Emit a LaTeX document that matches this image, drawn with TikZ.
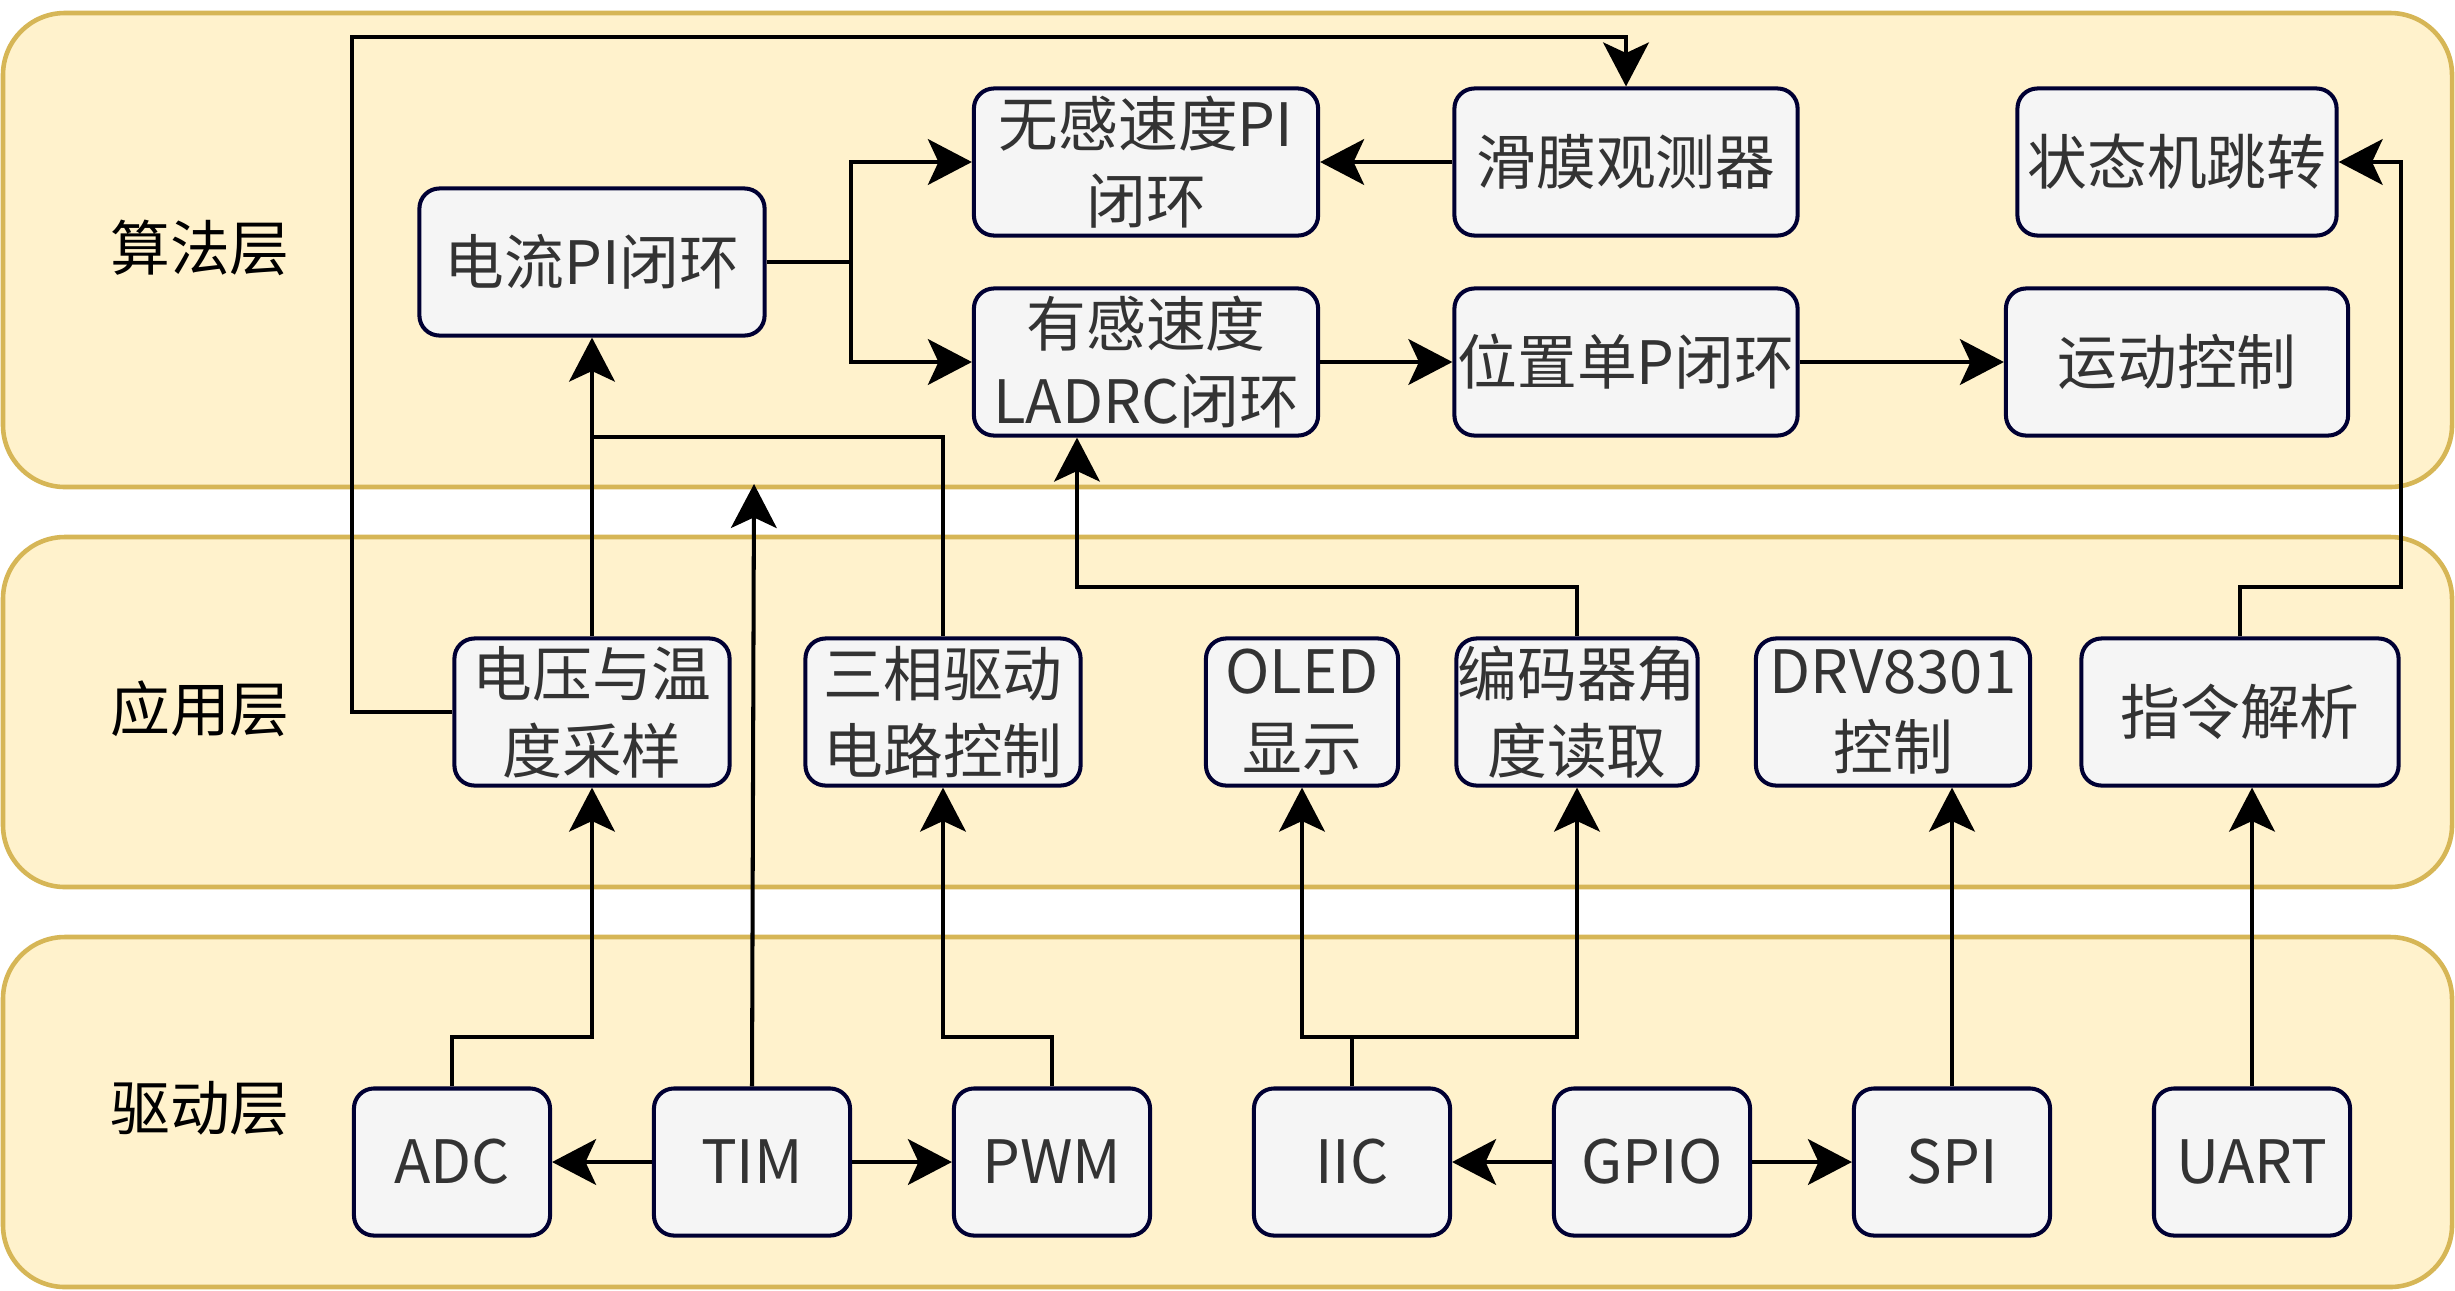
\documentclass[tikz,border=0pt]{standalone}
\usepackage{fontspec}
\setmainfont{Noto Sans CJK SC}
\usetikzlibrary{arrows.meta}
\definecolor{layerfill}{HTML}{FFF2CC}
\definecolor{layerline}{HTML}{D6B656}
\definecolor{boxfill}{HTML}{F5F5F5}
\definecolor{boxline}{HTML}{000033}
\definecolor{boxtext}{HTML}{333333}

\begin{document}
\begin{tikzpicture}[x=0.01cm, y=-0.01cm,
    font=\fontsize{17}{21.8}\selectfont,
    layer/.style={draw=layerline, fill=layerfill, line width=1.3pt, rounded corners=17.6pt},
    block/.style={draw=boxline, fill=boxfill, line width=1.15pt, rounded corners=5.7pt,
        text=boxtext, align=center, inner sep=0pt, minimum height=1.47cm},
    wire/.style={line width=1.15pt},
    link/.style={wire, -{Stealth[length=12.5pt, width=13pt, inset=3pt]}}]
    \useasboundingbox (0,0) rectangle (2455,1290);

    % Layers
    \draw[layer] (3,13) rectangle (2452,487);
    \draw[layer] (3,537) rectangle (2452,887);
    \draw[layer] (3,937) rectangle (2452,1287);
    \node (algLbl) at (200,248) {算法层};
    \node (appLbl) at (200,709) {应用层};
    \node (drvLbl) at (200,1109) {驱动层};

    % 算法层
    \node[block, minimum width=3.45cm] (curPI) at (592,262) {电流PI闭环};
    \node[block, minimum width=3.44cm] (slPI) at (1146,162) {无感速度PI\\闭环};
    \node[block, minimum width=3.44cm] (ladrc) at (1146,362) {有感速度\\LADRC闭环};
    \node[block, minimum width=3.43cm] (smo) at (1626,162) {滑膜观测器};
    \node[block, minimum width=3.43cm] (posP) at (1626,362) {位置单P闭环};
    \node[block, minimum width=3.19cm] (fsm) at (2177,162) {状态机跳转};
    \node[block, minimum width=3.42cm] (motion) at (2177,362) {运动控制};

    % 应用层
    \node[block, minimum width=2.75cm] (vtSamp) at (592,712) {电压与温\\度采样};
    \node[block, minimum width=2.75cm] (phCtl) at (943,712) {三相驱动\\电路控制};
    \node[block, minimum width=1.92cm] (oled) at (1302,712) {OLED\\显示};
    \node[block, minimum width=2.41cm] (enc) at (1577,712) {编码器角\\度读取};
    \node[block, minimum width=2.74cm] (drvChip) at (1893,712) {DRV8301\\控制};
    \node[block, minimum width=3.17cm] (cmd) at (2240,712) {指令解析};

    % 驱动层
    \node[block, minimum width=1.96cm] (adc) at (452,1162) {ADC};
    \node[block, minimum width=1.96cm] (tim) at (752,1162) {TIM};
    \node[block, minimum width=1.96cm] (pwm) at (1052,1162) {PWM};
    \node[block, minimum width=1.96cm] (iic) at (1352,1162) {IIC};
    \node[block, minimum width=1.96cm] (gpio) at (1652,1162) {GPIO};
    \node[block, minimum width=1.96cm] (spi) at (1952,1162) {SPI};
    \node[block, minimum width=1.96cm] (uart) at (2252,1162) {UART};

    % Routing points
    \coordinate (split) at (851,262);
    \coordinate (fbCorner) at (352,37);
    \coordinate (phaseBus) at (592,437);
    \coordinate (encBus) at (1077,587);
    \coordinate (cmdBus) at (2401,587);
    \coordinate (timTip) at (754,484);
    \coordinate (drvBus) at (0,1037);

    % 算法层 links
    \draw[link] (curPI.east) -- (split) |- (slPI.west);
    \draw[link] (split) |- (ladrc.west);
    \draw[link] (smo.west) -- (slPI.east);
    \draw[link] (ladrc.east) -- (posP.west);
    \draw[link] (posP.east) -- (motion.west);

    % 应用层 -> 算法层
    \draw[link] (vtSamp.west) -| (fbCorner) -| (smo.north);
    \draw[link] (vtSamp.north) -- (curPI.south);
    \draw[wire] (phCtl.north) |- (phaseBus);
    \draw[link] (enc.north) |- (encBus) -- (encBus |- ladrc.south);
    \draw[link] (cmd.north) |- (cmdBus) |- (fsm.east);
    \draw[link] (tim.north) -- (timTip);

    % 驱动层 -> 应用层
    \draw[link] (adc.north) |- (vtSamp.south |- drvBus) -- (vtSamp.south);
    \draw[link] (pwm.north) |- (phCtl.south |- drvBus) -- (phCtl.south);
    \draw[link] (iic.north) |- (oled.south |- drvBus) -- (oled.south);
    \draw[link] (iic.north) |- (enc.south |- drvBus) -- (enc.south);
    \draw[link] (spi.north) -- (spi.north |- drvChip.south);
    \draw[link] (uart.north) -- (uart.north |- cmd.south);
    \draw[link] (tim.west) -- (adc.east);
    \draw[link] (tim.east) -- (pwm.west);
    \draw[link] (gpio.west) -- (iic.east);
    \draw[link] (gpio.east) -- (spi.west);
\end{tikzpicture}
\end{document}
